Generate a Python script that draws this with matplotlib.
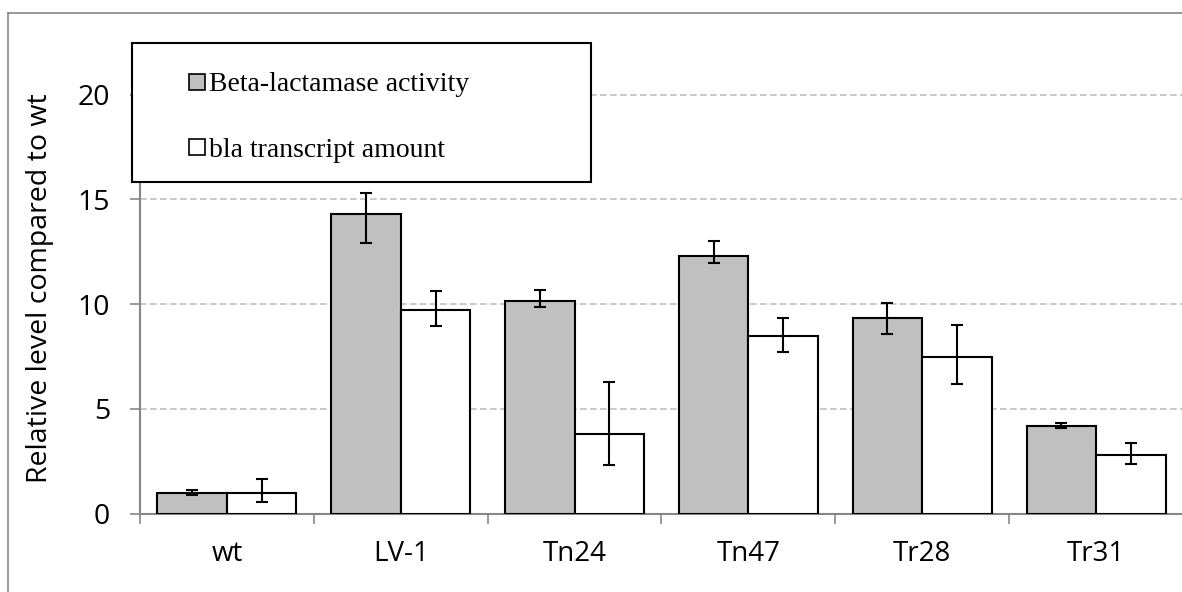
import numpy as np
import matplotlib.pyplot as plt
from matplotlib.patches import Rectangle
from matplotlib.lines import Line2D

strains = ["wt", "LV-1", "Tn24", "Tn47", "Tr28", "Tr31"]
activity = [1.0, 14.3, 10.17, 12.3, 9.34, 4.18]
activity_lo = [0.12, 1.38, 0.32, 0.33, 0.76, 0.10]
activity_hi = [0.12, 1.0, 0.51, 0.7, 0.72, 0.14]
transcript = [1.0, 9.72, 3.81, 8.5, 7.48, 2.81]
transcript_lo = [0.44, 0.78, 1.51, 0.77, 1.29, 0.46]
transcript_hi = [0.63, 0.91, 2.49, 0.84, 1.52, 0.57]
series_names = ["Beta-lactamase activity", "bla transcript amount"]

W, H = 1182, 592
fig = plt.figure(figsize=(W / 100, H / 100), dpi=100)
plt.rcParams['font.family'] = ['Open Sans', 'DejaVu Sans']

# outer chart border (only top and left visible)
fig.add_artist(Line2D([8 / W, 8 / W], [0, 1 - 13 / H], transform=fig.transFigure,
                      color='#868686', lw=1.2))
fig.add_artist(Line2D([8 / W, 1], [1 - 13 / H, 1 - 13 / H], transform=fig.transFigure,
                      color='#868686', lw=1.2))

ax = fig.add_axes([140 / W, 1 - 513.5 / H, 1043 / W, (513.5 - 63) / H])

x = np.arange(len(strains))
w = 0.4
ax.bar(x - w / 2, activity, w, color='#c0c0c0', edgecolor='black', lw=1.5, zorder=3)
ax.bar(x + w / 2, transcript, w, color='white', edgecolor='black', lw=1.5, zorder=3)
ax.errorbar(x - w / 2, activity, yerr=[activity_lo, activity_hi], fmt='none',
            ecolor='black', elinewidth=1.5, capsize=4.5, capthick=1.5, zorder=4)
ax.errorbar(x + w / 2, transcript, yerr=[transcript_lo, transcript_hi], fmt='none',
            ecolor='black', elinewidth=1.5, capsize=4.5, capthick=1.5, zorder=4)

ax.set_xlim(-0.5, len(strains) - 0.5)
ax.set_ylim(0, 21.52)
ax.set_yticks([0, 5, 10, 15, 20])
ax.set_xticks(np.arange(len(strains) + 1) - 0.5, minor=False)
ax.set_xticklabels([])
ax.set_xticks(x, minor=True)
ax.set_xticklabels(strains, minor=True)
ax.tick_params(axis='x', which='major', length=7.5, width=1.2, color='#868686', direction='out')
ax.tick_params(axis='x', which='minor', length=0, pad=19, labelsize=20)
ax.tick_params(axis='y', length=7.5, width=1.2, color='#868686', pad=14, labelsize=20.5)
ax.grid(axis='y', color='#c0c0c0', ls=(0, (4, 2)), lw=1.2, zorder=0)
for s in ['top', 'right']:
    ax.spines[s].set_visible(False)
for s in ['left', 'bottom']:
    ax.spines[s].set_color('#868686')
    ax.spines[s].set_linewidth(1.5)
ax.set_ylabel("Relative level compared to wt", fontsize=20.5, labelpad=17)

# legend box
fig.add_artist(Rectangle((132 / W, 1 - 182 / H), (591 - 132) / W, (182 - 43) / H,
                         transform=fig.transFigure, facecolor='white', edgecolor='black',
                         lw=1.5, zorder=10))
handles = [Line2D([], [], ls='none', marker='s', markersize=11, markerfacecolor=c,
                  markeredgecolor='black', markeredgewidth=1.2)
           for c in ['#c0c0c0', 'white']]
leg = fig.legend(handles, series_names, loc='upper left',
                 bbox_to_anchor=(173 / W, 1 - 58 / H), frameon=False,
                 prop={'family': 'Liberation Serif', 'size': 20},
                 labelspacing=1.45, handlelength=0.7, handletextpad=0.1, borderpad=0)
leg.set_zorder(11)

fig.savefig("out.png", dpi=100)
